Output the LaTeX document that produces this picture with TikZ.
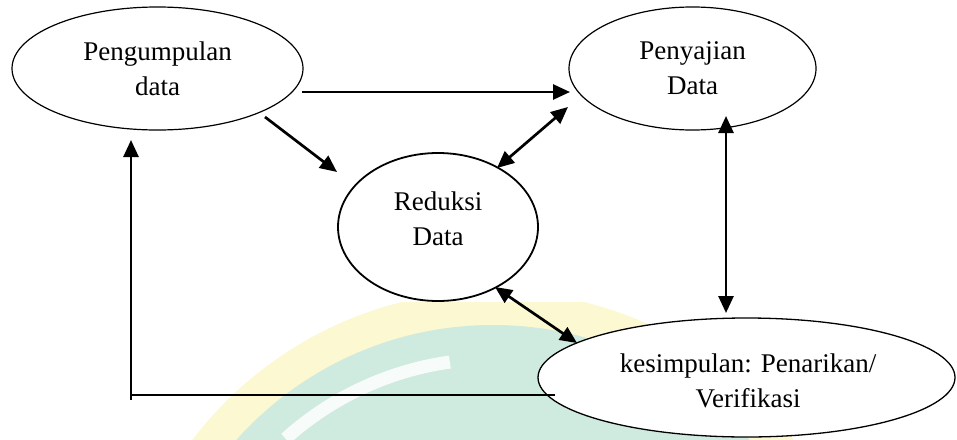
\documentclass[tikz,border=0pt]{standalone}
\usepackage{fontspec}
\setmainfont{Liberation Serif}
\usetikzlibrary{shapes.geometric,arrows.meta,calc}
\definecolor{wmY}{HTML}{FBF8D2}
\definecolor{wmT}{HTML}{CFEADF}
\begin{document}
\begin{tikzpicture}[x=1pt,y=-1pt,
 ell/.style={ellipse,draw,fill=white,inner sep=0pt},
 lbl/.style={align=center,font=\fontsize{27}{35}\selectfont,inner sep=0pt},
 arr/.style={line width=2.7pt,-{Triangle[length=17pt,width=15pt]}},
 darr/.style={line width=2.7pt,{Triangle[length=17pt,width=15pt]}-{Triangle[length=17pt,width=15pt]}},
 fb/.style={line width=1.4pt}]
\useasboundingbox (0,0) rectangle (957,439);
% faint watermark
\begin{scope}
\clip (0,302) rectangle (957,439);
\fill[wmY] (493,669) circle (378pt);
\fill[wmT] (493,669) circle (344pt);
\draw[white,line width=13pt,opacity=0.85] (493,669) ++(132:310pt) arc (132:98:310pt);
\end{scope}
% ellipses
\node[ell,line width=1.2pt,minimum width=291pt,minimum height=123pt] (peng) at (157.5,68.5) {};
\node[ell,line width=1.2pt,minimum width=247pt,minimum height=123pt] (peny) at (692.5,68.5) {};
\node[ell,line width=1.8pt,minimum width=200pt,minimum height=148pt] (red) at (438,227) {};
\node[ell,line width=1.3pt,minimum width=417pt,minimum height=119pt] (kes) at (746.5,377.5) {};
% labels
\node[lbl] (tpeng) at (157.5,68.5) {Pengumpulan\\data};
\node[lbl] (tpeny) at (692.5,68.5) {Penyajian\\Data};
\node[lbl] (tred) at (438,218.5) {Reduksi\\Data};
\node[lbl] (tkes) at (748,381.3) {kesimpulan: Penarikan/\\Verifikasi};
% connectors
\draw[arr] ($(peng.center)+(144.5,23.5)$) -- ($(peny.center)+(-122.5,23.5)$);
\draw[arr] ($(peng.center)+(107.5,48.5)$) -- ($(red.center)+(-101,-55)$);
\draw[darr] ($(red.center)+(59,-59)$) -- ($(peny.center)+(-124.5,38.5)$);
\draw[darr] ($(peny.center)+(33.5,47.5)$) -- ($(kes.center)+(-20.5,-64.5)$);
\draw[darr] ($(red.center)+(57,60)$) -- ($(kes.center)+(-169.5,-34.5)$);
\coordinate (corner) at (131,395);
\draw[fb] ($(kes.center)+(-191.5,17.5)$) -- (corner);
\draw[arr] ($(corner)+(0,5)$) -- ($(peng.center)+(-26.5,71.5)$);
\end{tikzpicture}
\end{document}
